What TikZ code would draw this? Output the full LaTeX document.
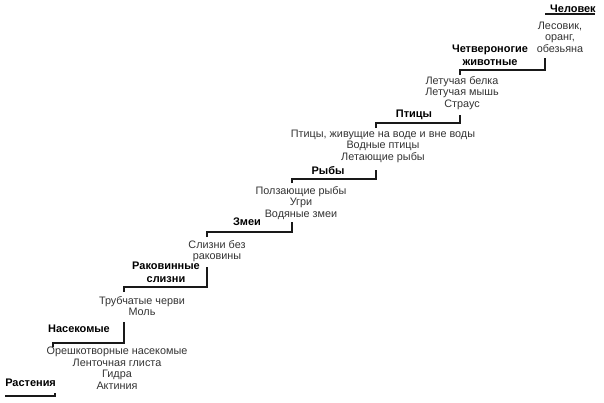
\documentclass[tikz,border=0pt]{standalone}
\usepackage{fontspec}
\setmainfont{Liberation Sans}
\usepackage{tikz}

\begin{document}
\begin{tikzpicture}[
    x=0.025cm, y=-0.025cm,
    stair/.style={line width=1.4pt, black!90},
    rung/.style={font=\fontsize{7.8}{9}\selectfont\bfseries, align=center, inner sep=0pt},
    kinds/.style={font=\fontsize{7.7}{8.2}\selectfont, align=center, inner sep=0pt, text=black!80}
]
\useasboundingbox (0,0) rectangle (604,402);

% steps of the ladder
\draw[stair] (5,396) -- (55,396) -- (55,393);
\draw[stair] (53,347) -- (53,343) -- (124,343) -- (124,322);
\draw[stair] (124,292) -- (124,287) -- (207,287) -- (207,267);
\draw[stair] (207,237) -- (207,232) -- (292,232) -- (292,222);
\draw[stair] (292,183) -- (292,179) -- (376,179) -- (376,170);
\draw[stair] (376,128) -- (376,123) -- (460,123) -- (460,115);
\draw[stair] (460,75) -- (460,70) -- (545,70) -- (545,58);
\draw[stair] (545,14) -- (595,14);

% level names
\node[rung, anchor=west] (plants) at (5,383) {Растения};
\node[rung] (insects) at (79,329) {Насекомые};
\node[rung] (shells) at (166,272) {Раковинные\\слизни};
\node[rung] (snakes) at (247,222) {Змеи};
\node[rung] (fish) at (328,171) {Рыбы};
\node[rung] (birds) at (414,115) {Птицы};
\node[rung] (quad) at (490,55.5) {Четвероногие\\животные};
\node[rung, anchor=east] (man) at (596,9) {Человек};

% forms between the levels
\node[kinds] (polyps) at (117,368) {Орешкотворные насекомые\\Ленточная глиста\\Гидра\\Актиния};
\node[kinds] (worms) at (142,306) {Трубчатые черви\\Моль};
\node[kinds] (slugs) at (217,251) {Слизни без\\раковины};
\node[kinds] (eels) at (301,203) {Ползающие рыбы\\Угри\\Водяные змеи};
\node[kinds] (flyfish) at (383,146) {Птицы, живущие на воде и вне воды\\Водные птицы\\Летающие рыбы};
\node[kinds] (bats) at (462,93) {Летучая белка\\Летучая мышь\\Страус};
\node[kinds] (apes) at (560,37) {Лесовик,\\оранг,\\обезьяна};
\end{tikzpicture}
\end{document}
